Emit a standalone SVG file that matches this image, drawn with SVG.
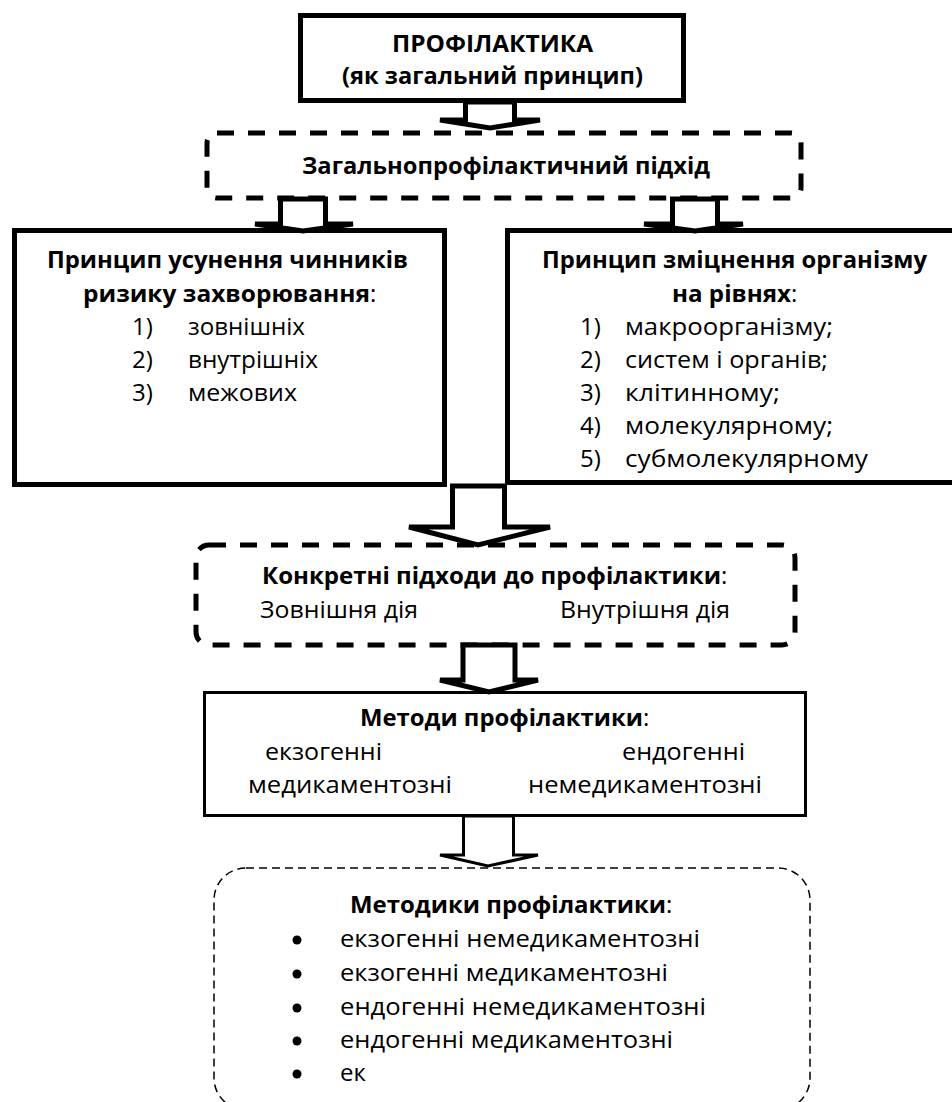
<svg xmlns="http://www.w3.org/2000/svg" width="952" height="1102" viewBox="0 0 952 1102">
<style>
  text { font-family: "Open Sans", "Liberation Sans", sans-serif; font-size: 24px; fill: #000; }
  .b { font-weight: bold; font-size: 24px; }
  .box { fill: #fff; stroke: #000; stroke-width: 5; }
  .thin { fill: #fff; stroke: #000; stroke-width: 3; }
  .dash { fill: #fff; stroke: #000; stroke-width: 5; stroke-dasharray: 17 14; }
  .dash3 { fill: #fff; stroke: #000; stroke-width: 1.5; stroke-dasharray: 8 5; }
  .arrow { fill: #fff; stroke: #000; stroke-width: 5; stroke-linejoin: miter; stroke-miterlimit: 2; }
  .arrowThin { fill: #fff; stroke: #000; stroke-width: 3; stroke-linejoin: miter; stroke-miterlimit: 2; }
</style>
<rect width="952" height="1102" fill="#fff"/>

<g id="node-profilaktyka">
  <rect class="box" x="300.5" y="15.5" width="383" height="85"/>
  <text class="b" x="392" y="52" textLength="201" lengthAdjust="spacingAndGlyphs">ПРОФІЛАКТИКА</text>
  <text class="b" x="342" y="84" textLength="301" lengthAdjust="spacingAndGlyphs">(як загальний принцип)</text>
</g>

<g id="node-zahalnyi-pidkhid">
  <rect class="dash" x="207" y="133" width="594" height="65" rx="10"/>
  <text class="b" x="302" y="174" textLength="408" lengthAdjust="spacingAndGlyphs">Загальнопрофілактичний підхід</text>
</g>

<g id="node-usunennia">
  <rect class="box" x="14.5" y="230.5" width="430" height="254"/>
  <text class="b" x="47" y="268" textLength="361" lengthAdjust="spacingAndGlyphs">Принцип усунення чинників</text>
  <text class="b" x="83" y="302" textLength="287" lengthAdjust="spacingAndGlyphs">ризику захворювання</text>
  <text x="370" y="302">:</text>
  <text x="132" y="335">1)</text><text x="188" y="335" textLength="117" lengthAdjust="spacingAndGlyphs">зовнішніх</text>
  <text x="132" y="368">2)</text><text x="188" y="368" textLength="130" lengthAdjust="spacingAndGlyphs">внутрішніх</text>
  <text x="132" y="401">3)</text><text x="188" y="401" textLength="109" lengthAdjust="spacingAndGlyphs">межових</text>
</g>

<g id="node-zmitsnennia">
  <rect class="box" x="507.5" y="230.5" width="460" height="252"/>
  <text class="b" x="542" y="268" textLength="385" lengthAdjust="spacingAndGlyphs">Принцип зміцнення організму</text>
  <text class="b" x="672" y="302" textLength="119" lengthAdjust="spacingAndGlyphs">на рівнях</text>
  <text x="791" y="302">:</text>
  <text x="580" y="335">1)</text><text x="625" y="335" textLength="208" lengthAdjust="spacingAndGlyphs">макроорганізму;</text>
  <text x="580" y="368">2)</text><text x="625" y="368" textLength="203" lengthAdjust="spacingAndGlyphs">систем і органів;</text>
  <text x="580" y="401">3)</text><text x="625" y="401" textLength="155" lengthAdjust="spacingAndGlyphs">клітинному;</text>
  <text x="580" y="434">4)</text><text x="625" y="434" textLength="208" lengthAdjust="spacingAndGlyphs">молекулярному;</text>
  <text x="580" y="467">5)</text><text x="625" y="467" textLength="243" lengthAdjust="spacingAndGlyphs">субмолекулярному</text>
</g>

<g id="node-konkretni-pidkhody">
  <rect class="dash" x="196" y="545" width="599" height="100" rx="13"/>
  <text class="b" x="262" y="584" textLength="459" lengthAdjust="spacingAndGlyphs">Конкретні підходи до профілактики</text>
  <text x="721" y="584">:</text>
  <text x="260" y="618" textLength="158" lengthAdjust="spacingAndGlyphs">Зовнішня дія</text>
  <text x="560" y="618" textLength="170" lengthAdjust="spacingAndGlyphs">Внутрішня дія</text>
</g>

<g id="node-metody">
  <rect class="thin" x="204.5" y="692.5" width="601" height="123"/>
  <text class="b" x="360" y="726" textLength="283" lengthAdjust="spacingAndGlyphs">Методи профілактики</text>
  <text x="643" y="726">:</text>
  <text x="265" y="760" textLength="117" lengthAdjust="spacingAndGlyphs">екзогенні</text>
  <text x="622" y="760" textLength="123" lengthAdjust="spacingAndGlyphs">ендогенні</text>
  <text x="248" y="793" textLength="204" lengthAdjust="spacingAndGlyphs">медикаментозні</text>
  <text x="528" y="793" textLength="234" lengthAdjust="spacingAndGlyphs">немедикаментозні</text>
</g>

<g id="node-metodyky">
  <rect class="dash3" x="214" y="868" width="596" height="242" rx="32"/>
  <text class="b" x="350" y="913" textLength="316" lengthAdjust="spacingAndGlyphs">Методики профілактики</text>
  <text x="666" y="913">:</text>
  <circle cx="297" cy="940" r="4.5"/><text x="340" y="947" textLength="360" lengthAdjust="spacingAndGlyphs">екзогенні немедикаментозні</text>
  <circle cx="297" cy="974" r="4.5"/><text x="340" y="981" textLength="328" lengthAdjust="spacingAndGlyphs">екзогенні медикаментозні</text>
  <circle cx="297" cy="1008" r="4.5"/><text x="340" y="1015" textLength="366" lengthAdjust="spacingAndGlyphs">ендогенні немедикаментозні</text>
  <circle cx="297" cy="1041" r="4.5"/><text x="340" y="1048" textLength="333" lengthAdjust="spacingAndGlyphs">ендогенні медикаментозні</text>
  <circle cx="297" cy="1074" r="4.5"/><text x="340" y="1081">ек</text>
</g>

<g id="connectors">
  <path class="arrow" d="M465.5 102 V120 H440 L490 128 L540 120 H514.5 V102 Z"/>
  <path class="arrow" d="M280.5 199 V224 H255 L303 231 L353 224 H325.5 V199 Z"/>
  <path class="arrow" d="M672.5 199 V224 H644 L695 231 L743 224 H717.5 V199 Z"/>
  <path class="arrow" d="M452.5 486 V527 H409 L478 545 L550 527 H504.5 V486 Z"/>
  <path class="arrow" d="M463 645 V680 H440 L489 692 L538 680 H515 V645 Z"/>
  <path class="arrowThin" d="M463.5 816 V855 H440 L488 866 L538 855 H513.5 V816 Z"/>
</g>
</svg>
